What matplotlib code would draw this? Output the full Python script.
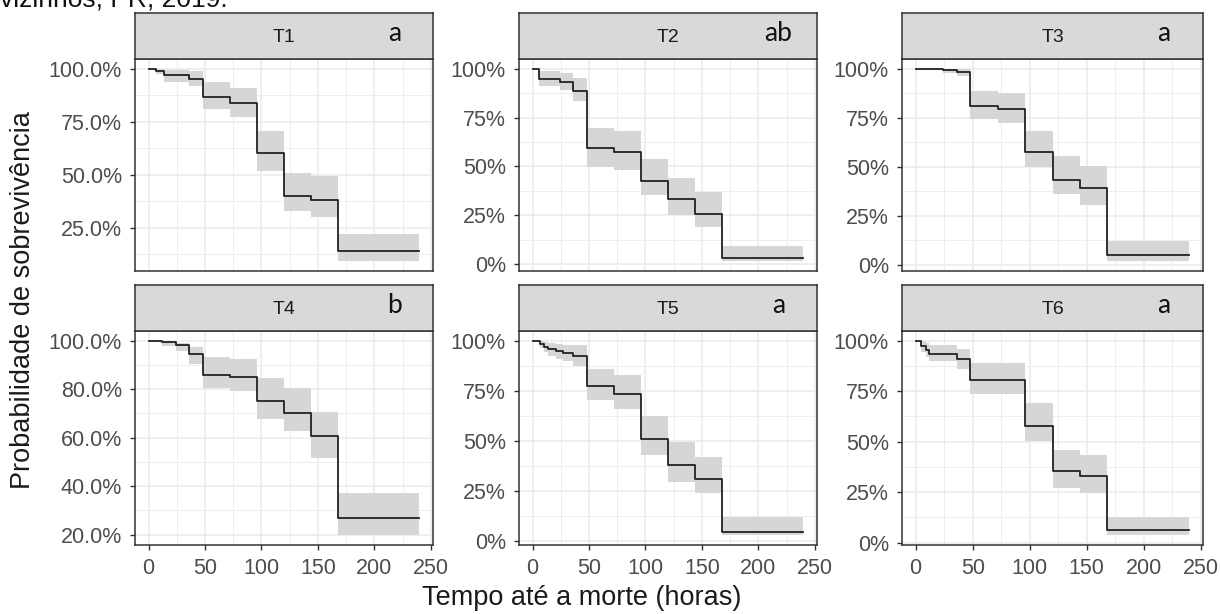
import matplotlib.pyplot as plt
import numpy as np
from matplotlib.ticker import FixedLocator, FuncFormatter

# Kaplan-Meier curves (survival %, with confidence band)
panels = ["T1", "T2", "T3", "T4", "T5", "T6"]
letters = ["a", "ab", "a", "b", "a", "a"]

t1_time = [0, 7, 14, 36, 48, 72, 96, 120, 144, 168, 240]
t1_surv = [100, 99, 97, 95, 86.5, 84, 60.4, 40, 38.2, 13.8, 13.8]
t1_low = [100, 97.5, 93.5, 92, 81, 77.4, 51.9, 32.7, 30.2, 9.1, 9.1]
t1_high = [100, 100, 99.5, 99, 93.9, 90.9, 70.8, 50.6, 49.5, 22, 22]

t2_time = [0, 6, 24, 36, 48, 72, 96, 120, 144, 168, 240]
t2_surv = [100, 94.7, 93.4, 88.8, 59.2, 57.2, 42.8, 33.5, 25.9, 3.4, 3.4]
t2_low = [100, 91, 89, 83.4, 49.9, 48.2, 35.2, 25.4, 18.9, 1.5, 1.5]
t2_high = [100, 99, 98, 95.3, 69.9, 68, 53.6, 44, 36.9, 9.3, 9.3]

t3_time = [0, 24, 36, 48, 72, 96, 120, 144, 168, 240]
t3_surv = [100, 99.2, 98.3, 80.7, 79.4, 57.7, 43.4, 39, 5, 5]
t3_low = [100, 98, 96, 74.3, 72.3, 49.6, 36.2, 30.6, 1.7, 1.7]
t3_high = [100, 100, 100, 88.8, 87.4, 68.4, 55.2, 50.4, 12.3, 12.3]

t4_time = [0, 12, 24, 36, 48, 72, 96, 120, 144, 168, 240]
t4_surv = [100, 99.3, 98.2, 94.7, 85.9, 85.2, 75.1, 70.3, 60.5, 27, 27]
t4_low = [100, 98, 95.8, 90.5, 80.4, 79.1, 67.7, 62.6, 51.8, 19.7, 19.7]
t4_high = [100, 100, 99, 97.5, 93.3, 92.6, 84.5, 80.3, 70.5, 37.2, 37.2]

t5_time = [0, 7, 10, 14, 21, 27, 36, 48, 72, 96, 120, 144, 168, 240]
t5_surv = [100, 98.6, 97.1, 95.8, 94.7, 94, 92.6, 77.2, 73.5, 51.1, 37.9, 30.9, 4.7, 4.7]
t5_low = [100, 96.5, 94.5, 92.5, 91, 90, 87.3, 70.5, 65.8, 43, 29.7, 24.1, 3, 3]
t5_high = [100, 100, 99.5, 98.8, 98.3, 98, 97.8, 86, 83.1, 62.4, 49.4, 41.8, 12.3, 12.3]

t6_time = [0, 5, 9, 12, 36, 48, 96, 120, 144, 168, 240]
t6_surv = [100, 97.5, 95.6, 93.6, 91.1, 80.6, 58, 35.3, 32.8, 6.2, 6.2]
t6_low = [100, 94.5, 92, 90.2, 86, 73.8, 50.3, 27.2, 24.7, 3.7, 3.7]
t6_high = [100, 100, 99, 98.1, 96.1, 88.9, 69.3, 45.7, 43.2, 12.9, 12.9]

curves = [
    (t1_time, t1_surv, t1_low, t1_high),
    (t2_time, t2_surv, t2_low, t2_high),
    (t3_time, t3_surv, t3_low, t3_high),
    (t4_time, t4_surv, t4_low, t4_high),
    (t5_time, t5_surv, t5_low, t5_high),
    (t6_time, t6_surv, t6_low, t6_high),
]

y_ticks = [
    [25, 50, 75, 100],
    [0, 25, 50, 75, 100],
    [0, 25, 50, 75, 100],
    [20, 40, 60, 80, 100],
    [0, 25, 50, 75, 100],
    [0, 25, 50, 75, 100],
]
y_decimals = [1, 0, 0, 1, 0, 0]
x_ticks = [0, 50, 100, 150, 200, 250]

plt.rcParams["font.family"] = ["Liberation Sans", "DejaVu Sans"]

W, H = 1220, 614
fig = plt.figure(figsize=(W / 100, H / 100), dpi=100)


def box(left, top, right, bottom):
    return [left / W, 1 - bottom / H, (right - left) / W, (bottom - top) / H]


cols = [(135, 433), (519, 817), (902, 1203)]
rows = [(13, 59, 271), (285, 331, 545)]

border = "#333333"
grid_col = "#EBEBEB"
tick_col = "#4D4D4D"

for i, name in enumerate(panels):
    r, c = divmod(i, 3)
    left, right = cols[c]
    s_top, p_top, p_bot = rows[r]

    ax = fig.add_axes(box(left, p_top, right, p_bot))
    time, surv, low, high = curves[i]
    ax.fill_between(time, low, high, step="post", color="#D6D6D6", lw=0)
    ax.step(time, surv, where="post", color="#222222", lw=1.3)

    ax.set_xlim(-12, 252)
    ax.margins(y=0.05)
    ax.xaxis.set_major_locator(FixedLocator(x_ticks))
    ax.xaxis.set_minor_locator(FixedLocator([25, 75, 125, 175, 225]))
    yt = y_ticks[i]
    ax.yaxis.set_major_locator(FixedLocator(yt))
    step = yt[1] - yt[0]
    ax.yaxis.set_minor_locator(FixedLocator([v - step / 2 for v in yt] + [yt[-1] + step / 2]))
    dec = y_decimals[i]
    ax.yaxis.set_major_formatter(FuncFormatter(lambda v, p, d=dec: f"{v:.{d}f}%"))

    ax.grid(True, which="major", color=grid_col, lw=1.1)
    ax.grid(True, which="minor", color=grid_col, lw=0.6)
    ax.set_axisbelow(True)
    for sp in ax.spines.values():
        sp.set_color(border)
        sp.set_linewidth(1.1)
    ax.tick_params(axis="both", which="major", length=3.5, color=border, width=1,
                   labelsize=15.5, labelcolor=tick_col)
    ax.tick_params(axis="y", which="major", pad=6)
    ax.tick_params(axis="x", which="major", pad=6)
    ax.tick_params(axis="both", which="minor", length=0)
    if r == 0:
        ax.tick_params(axis="x", which="major", length=0, labelbottom=False)

    sax = fig.add_axes(box(left, s_top, right, p_top))
    sax.set_facecolor("#D9D9D9")
    sax.set_xticks([])
    sax.set_yticks([])
    for sp in sax.spines.values():
        sp.set_color(border)
        sp.set_linewidth(1.1)
    sax.text(0.5, 0.47, name, ha="center", va="center", fontsize=14,
             color="#1A1A1A", transform=sax.transAxes)
    sax.text(0.87, 0.55, letters[i], ha="center", va="center", fontsize=19,
             family=["Lato", "DejaVu Sans"], color="#111111", transform=sax.transAxes)

fig.text(23 / W, 1 - 300 / H, "Probabilidade de sobrevivência", rotation=90,
         ha="center", va="center", fontsize=19.5, color="#1A1A1A")
fig.text(582 / W, 1 - 598 / H, "Tempo até a morte (horas)", ha="center",
         va="center", fontsize=19.5, color="#1A1A1A")
fig.text(0.0, 1 - 7 / H, "vizinhos, PR, 2019.", ha="left", va="baseline",
         fontsize=19, color="#111111")

fig.savefig("out.png", dpi=100)
